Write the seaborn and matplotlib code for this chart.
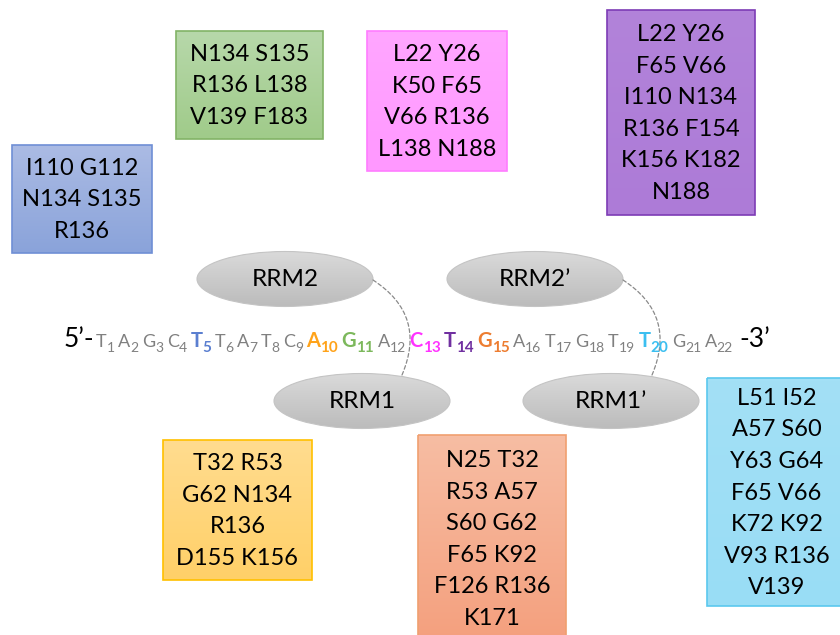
import numpy as np
import matplotlib
matplotlib.use("Agg")
import matplotlib.pyplot as plt
from matplotlib.patches import Rectangle, Ellipse
import seaborn as sns

# Data: DNA sequence, highlighted bases and contacting residues
sequence = list("TAGCTTATCAGACTGATGTTGA")
highlight = {5: "#5b7fd0", 10: "#ffa31a", 11: "#7cb85c", 13: "#ff33ff",
             14: "#7030a0", 15: "#ed7d31", 20: "#3cbff0"}

res_blue = ["I110 G112", "N134 S135", "R136"]
res_green = ["N134 S135", "R136 L138", "V139 F183"]
res_pink = ["L22 Y26", "K50 F65", "V66 R136", "L138 N188"]
res_purple = ["L22 Y26", "F65 V66", "I110 N134", "R136 F154", "K156 K182", "N188"]
res_yellow = ["T32 R53", "G62 N134", "R136", "D155 K156"]
res_orange = ["N25 T32", "R53 A57", "S60 G62", "F65 K92", "F126 R136", "K171"]
res_cyan = ["L51 I52", "A57 S60", "Y63 G64", "F65 V66", "K72 K92", "V93 R136", "V139"]

domains = ["RRM2", "RRM2\u2019", "RRM1", "RRM1\u2019"]

# Layout / styles
boxes = [
    # residues, (x0, y0, x1, y1), top colour, bottom colour, edge
    (res_blue, (12, 145, 152, 253), "#abbbe4", "#8aa3da", "#6f8fd5"),
    (res_green, (176, 31, 323, 139), "#b7d8aa", "#a0cb8a", "#82b366"),
    (res_pink, (367, 31, 507, 171), "#ffa6ff", "#ff98ff", "#ff7dff"),
    (res_purple, (607, 10, 755, 215), "#b283da", "#ad7bd7", "#7d3cb5"),
    (res_yellow, (163, 440, 312, 580), "#ffdc8f", "#ffd068", "#ffc000"),
    (res_orange, (418, 435, 566, 642), "#f7bda3", "#f4a07e", "#f0a070"),
    (res_cyan, (707, 378, 846, 606), "#a3e0f6", "#99ddf5", "#5bc8ee"),
]
ellipses = [((285, 279), 176, 55), ((535, 279), 176, 55),
            ((362, 401), 176, 55), ((611, 401), 176, 55)]
links = [((373, 280), (402, 375)), ((623, 280), (652, 375))]

sns.set_theme(style="white")
plt.rcParams["font.family"] = ["Lato", "DejaVu Sans"]

fig = plt.figure(figsize=(8.4, 6.35), dpi=100)
ax = fig.add_axes([0, 0, 1, 1])


def gradient_fill(patch, bbox, top, bottom):
    x0, y0, x1, y1 = bbox
    cmap = sns.blend_palette([top, bottom], n_colors=64, as_cmap=True)
    im = ax.imshow(np.linspace(0, 1, 64).reshape(-1, 1), cmap=cmap,
                   extent=(x0, x1, y1, y0), aspect="auto", zorder=1,
                   interpolation="bilinear")
    im.set_clip_path(patch)


# residue boxes
for res, bbox, top, bottom, edge in boxes:
    x0, y0, x1, y1 = bbox
    rect = Rectangle((x0, y0), x1 - x0, y1 - y0, facecolor="none",
                     edgecolor=edge, lw=1.2, zorder=2)
    ax.add_patch(rect)
    gradient_fill(rect, bbox, top, bottom)
    ax.text((x0 + x1) / 2, (y0 + y1) / 2 + 1, "\n".join(res), ha="center",
            va="center", fontsize=17, linespacing=1.62, color="black", zorder=3)

# RRM domains
for name, ((cx, cy), w, h) in zip(domains, ellipses):
    ell = Ellipse((cx, cy), w, h, facecolor="none", edgecolor="#c4c4c4",
                  lw=0.8, zorder=2)
    ax.add_patch(ell)
    gradient_fill(ell, (cx - w / 2, cy - h / 2, cx + w / 2, cy + h / 2),
                  "#dadada", "#bcbcbc")
    ax.text(cx, cy + 1, name, ha="center", va="center", fontsize=17.5,
            color="black", zorder=3)

# dashed linkers
for start, end in links:
    ax.annotate("", xy=end, xytext=start,
                arrowprops=dict(arrowstyle="-", connectionstyle="arc3,rad=-0.42",
                                ls=(0, (3, 2)), color="#8a8a8a", lw=0.9,
                                shrinkA=0, shrinkB=0), zorder=2)

# sequence
base_y = 347
ax.text(94, base_y, "5\u2019-", ha="right", va="baseline", fontsize=19,
        color="black", zorder=4)
ax.text(739, base_y, "-3\u2019", ha="left", va="baseline", fontsize=19,
        color="black", zorder=4)

tokens = []
for i, base in enumerate(sequence, 1):
    col = highlight.get(i, "#808080")
    bold = i in highlight
    t1 = ax.text(0, base_y, base, va="baseline", ha="left", color=col,
                 fontsize=14.5 if bold else 13,
                 fontweight="bold" if bold else "normal", zorder=4)
    t2 = ax.text(0, base_y + 4.5, str(i), va="baseline", ha="left", color=col,
                 fontsize=11 if bold else 10,
                 fontweight="bold" if bold else "normal", zorder=4)
    tokens.append((t1, t2))

ax.set_xlim(0, 840)
ax.set_ylim(635, 0)
ax.axis("off")

fig.canvas.draw()
renderer = fig.canvas.get_renderer()
widths = [(a.get_window_extent(renderer).width, b.get_window_extent(renderer).width)
          for a, b in tokens]
seq_start, seq_end = 96, 733
gap = (seq_end - seq_start - sum(a + b for a, b in widths)) / (len(tokens) - 1)
x = seq_start
for (t1, t2), (w1, w2) in zip(tokens, widths):
    t1.set_x(x)
    t2.set_x(x + w1)
    x += w1 + w2 + gap

fig.savefig("out.png", dpi=100)
